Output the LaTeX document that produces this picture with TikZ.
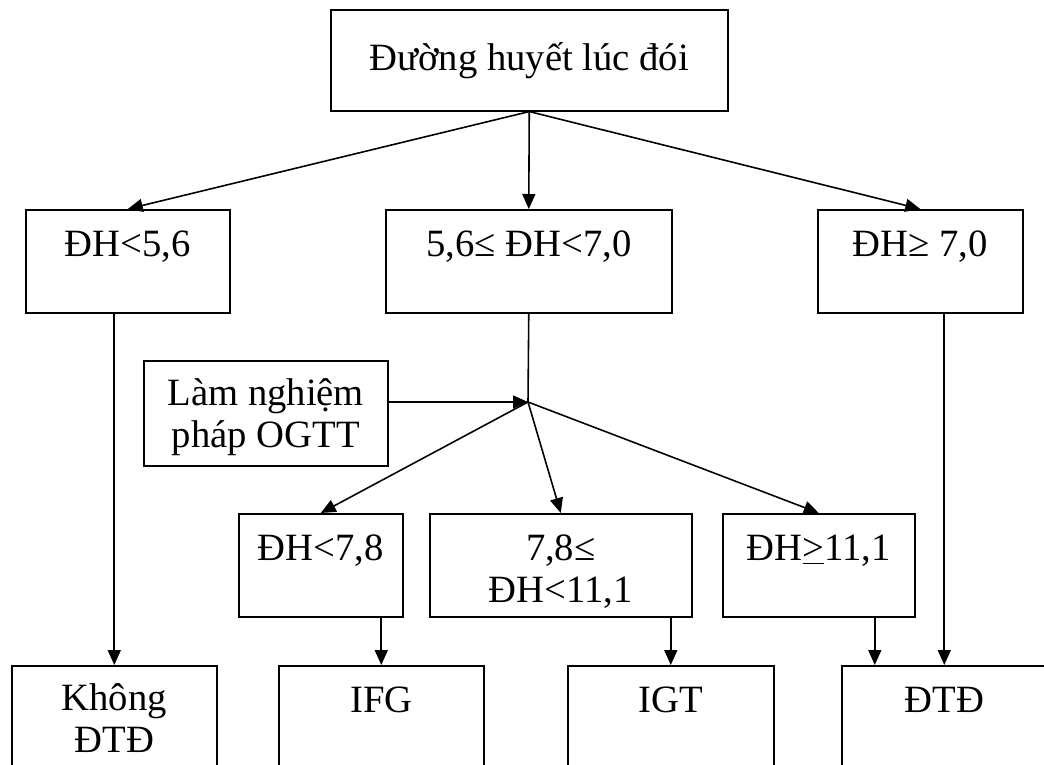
\documentclass[tikz,border=0pt]{standalone}
\usepackage{fontspec}
\setmainfont{Liberation Serif}
\usetikzlibrary{arrows.meta,positioning,calc}

\begin{document}
\begin{tikzpicture}[x=0.02cm,y=-0.02cm,
    >={Triangle[length=0.3cm,width=0.26cm]},
    every node/.style={font=\fontsize{22}{24}\selectfont},
    box/.style={draw, line width=0.9pt, anchor=north west, inner sep=0pt,
      align=center, text height=0.94cm, text depth=1.12cm},
    lowbox/.style={box, text depth=1.26cm},
    link/.style={line width=0.9pt}]
  \useasboundingbox (0,0) rectangle (1044,764);
  % fasting glucose
  \node[draw, line width=0.9pt, anchor=north west, minimum width=7.94cm,
    minimum height=2.02cm] (fpg) at (330,9) {Đường huyết lúc đói};
  \node[box, minimum width=4.08cm] (l56) at (25,209) {ĐH<5,6};
  \node[box, minimum width=5.72cm] (m70) at (385,209) {5,6≤ ĐH<7,0};
  \node[box, minimum width=4.1cm] (r70) at (817,209) {ĐH≥ 7,0};
  % OGTT
  \node[box, minimum width=4.88cm, text height=1.74cm, text depth=0.36cm]
    (ogtt) at (143,360) {Làm nghiệm\\pháp OGTT};
  \coordinate (j) at (528,402);
  \node[box, minimum width=3.28cm] (l78) at (238,513) {ĐH<7,8};
  \node[box, minimum width=5.24cm, text height=1.78cm, text depth=0.28cm]
    (m111) at (429,513) {7,8≤\\ĐH<11,1};
  \node[box, minimum width=3.84cm] (r111) at (722,513) {ĐH\underline{>}11,1};
  % results
  \node[lowbox, minimum width=4.1cm, text height=1.74cm, text depth=0.46cm]
    (knot) at (11,665) {Không\\ĐTĐ};
  \node[lowbox, minimum width=4.1cm] (ifg) at (278,665) {IFG};
  \node[lowbox, minimum width=4.12cm] (igt) at (567,665) {IGT};
  \node[lowbox, minimum width=4.1cm] (dtd) at (841,665) {ĐTĐ};
  \coordinate (dtdin) at ([xshift=-1.39cm]dtd.north);

  \draw[link,->] (fpg.south) -- (l56.north);
  \draw[link,->] (fpg.south) -- (m70.north);
  \draw[link,->] (fpg.south) -- (r70.north);
  \draw[link,->] (knot.north |- l56.south) -- (knot.north);
  \draw[link,->] (dtd.north |- r70.south) -- (dtd.north);
  \draw[link] (m70.south) -- (j);
  \draw[link,->] (ogtt.east |- j) -- (j);
  \draw[link,->] (j) -- (l78.north);
  \draw[link,->] (j) -- (m111.north);
  \draw[link,->] (j) -- (r111.north);
  \draw[link,->] (ifg.north |- l78.south) -- (ifg.north);
  \draw[link,->] (igt.north |- m111.south) -- (igt.north);
  \draw[link,->] (dtdin |- r111.south) -- (dtdin);
\end{tikzpicture}
\end{document}
